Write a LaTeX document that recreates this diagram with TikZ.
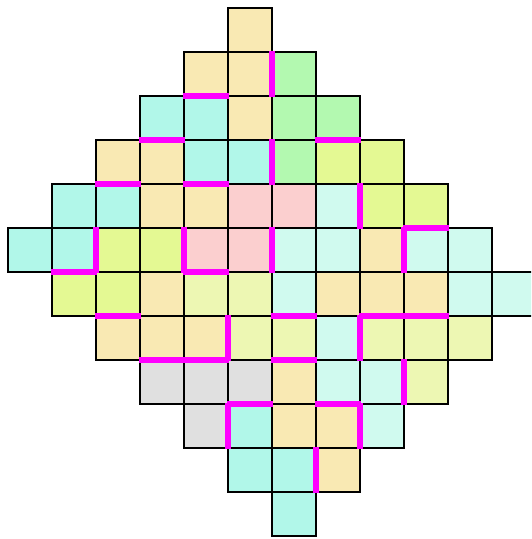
\documentclass[tikz,border=0pt]{standalone}
\definecolor{ctan}{HTML}{F9E9B3}
\definecolor{ccyan}{HTML}{B1F7E9}
\definecolor{cgreen}{HTML}{B3F9B0}
\definecolor{cyg}{HTML}{E4F993}
\definecolor{clyg}{HTML}{EDF7B3}
\definecolor{clcyan}{HTML}{D0FAEF}
\definecolor{cpink}{HTML}{FBCFCF}
\definecolor{cgray}{HTML}{E0E0E0}
\definecolor{cmag}{HTML}{FF00FF}
\begin{document}
\begin{tikzpicture}[x=1pt,y=-1pt,
  cellbox/.style={draw=black,line width=2.6pt},
  wall/.style={draw=cmag,line width=5.5pt,line cap=rect}]
\useasboundingbox (0,0) rectangle (531,539);
\clip (0,0) rectangle (531,539);
\foreach \r/\c/\col in {
 0/5/ctan,
 1/4/ctan,1/5/ctan,1/6/cgreen,
 2/3/ccyan,2/4/ccyan,2/5/ctan,2/6/cgreen,2/7/cgreen,
 3/2/ctan,3/3/ctan,3/4/ccyan,3/5/ccyan,3/6/cgreen,3/7/cyg,3/8/cyg,
 4/1/ccyan,4/2/ccyan,4/3/ctan,4/4/ctan,4/5/cpink,4/6/cpink,4/7/clcyan,4/8/cyg,4/9/cyg,
 5/0/ccyan,5/1/ccyan,5/2/cyg,5/3/cyg,5/4/cpink,5/5/cpink,5/6/clcyan,5/7/clcyan,5/8/ctan,5/9/clcyan,5/10/clcyan,
 6/1/cyg,6/2/cyg,6/3/ctan,6/4/clyg,6/5/clyg,6/6/clcyan,6/7/ctan,6/8/ctan,6/9/ctan,6/10/clcyan,6/11/clcyan,
 7/2/ctan,7/3/ctan,7/4/ctan,7/5/clyg,7/6/clyg,7/7/clcyan,7/8/clyg,7/9/clyg,7/10/clyg,
 8/3/cgray,8/4/cgray,8/5/cgray,8/6/ctan,8/7/clcyan,8/8/clcyan,8/9/clyg,
 9/4/cgray,9/5/ccyan,9/6/ctan,9/7/ctan,9/8/clcyan,
 10/5/ccyan,10/6/ccyan,10/7/ctan,
 11/6/ccyan}
{
  \filldraw[cellbox,fill=\col] ({8+44*\c},{8+44*\r}) rectangle ++(44,44);
}
% horizontal magenta walls: boundary row k, column c
\foreach \k/\c in {2/4,3/3,3/7,4/2,4/4,5/9,6/1,6/4,7/2,7/6,7/8,7/9,8/3,8/4,8/6,9/5,9/7}
{
  \draw[wall] ({8+44*\c+1.5},{8+44*\k}) -- ++(41,0);
}
% vertical magenta walls: boundary column k, row r
\foreach \k/\r in {6/1,6/3,6/5,8/4,2/5,4/5,9/5,5/7,8/7,9/8,5/9,8/9,7/10}
{
  \draw[wall] ({8+44*\k},{8+44*\r+1.5}) -- ++(0,41);
}
\end{tikzpicture}
\end{document}
